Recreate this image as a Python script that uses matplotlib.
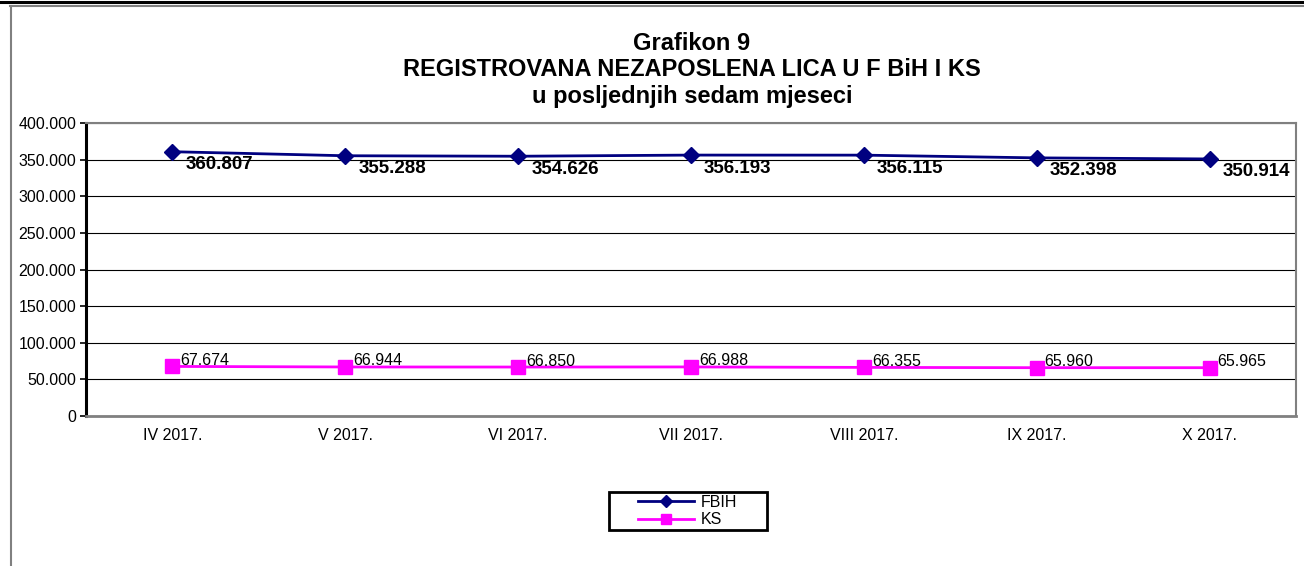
import matplotlib
matplotlib.use("Agg")
import matplotlib.pyplot as plt
from matplotlib.ticker import FuncFormatter, MultipleLocator
from matplotlib.lines import Line2D
from matplotlib.patches import Rectangle

categories = ["IV 2017.", "V 2017.", "VI 2017.", "VII 2017.", "VIII 2017.", "IX 2017.", "X 2017."]
fbih = [360807, 355288, 354626, 356193, 356115, 352398, 350914]
ks = [67674, 66944, 66850, 66988, 66355, 65960, 65965]
series_names = ["FBIH", "KS"]
title_lines = ["Grafikon 9", "REGISTROVANA NEZAPOSLENA LICA U F BiH I KS", "u posljednjih sedam mjeseci"]

plt.rcParams['font.family'] = ['Liberation Sans', 'DejaVu Sans']

fig = plt.figure(figsize=(13.04, 5.66), dpi=100)
W, H = 1304, 566

def fx(px): return px / W
def fy(py): return 1 - py / H

# outer frame lines
fig.add_artist(Line2D([0, 1], [fy(1.5), fy(1.5)], color="black", lw=2.2, transform=fig.transFigure))
fig.add_artist(Line2D([fx(10), 1], [fy(5.5), fy(5.5)], color="#808080", lw=1.5, transform=fig.transFigure))
fig.add_artist(Line2D([fx(11), fx(11)], [fy(5.5), 0], color="#808080", lw=1.5, transform=fig.transFigure))

ax = fig.add_axes([fx(86), fy(416), fx(1296) - fx(86), fy(123) - fy(416)])
x = list(range(len(categories)))

ax.set_ylim(0, 400000)
ax.set_xlim(-0.5, len(categories) - 0.5)
ax.yaxis.set_major_locator(MultipleLocator(50000))
ax.yaxis.set_major_formatter(FuncFormatter(lambda v, p: f"{int(v):,}".replace(",", ".")))
ax.grid(axis="y", color="black", lw=0.8)
ax.set_axisbelow(True)

for s in ["top", "right"]:
    ax.spines[s].set_color("#808080")
    ax.spines[s].set_linewidth(1.5)
ax.spines["bottom"].set_color("#808080")
ax.spines["bottom"].set_linewidth(2)
ax.spines["left"].set_color("black")
ax.spines["left"].set_linewidth(2.2)

ax.set_xticks(x)
ax.set_xticklabels(categories)
ax.tick_params(axis="x", length=0, pad=9, labelsize=11.5)
ax.tick_params(axis="y", length=4, width=1.2, labelsize=11.5, pad=3)

ax.plot(x, fbih, color="#000080", lw=2, marker="D", markersize=8, label=series_names[0], zorder=3)
ax.plot(x, ks, color="#FF00FF", lw=2, marker="s", markersize=10, label=series_names[1], zorder=3)

for xi, v in zip(x, fbih):
    ax.annotate(f"{v:,}".replace(",", "."), (xi, v), xytext=(13, -13), textcoords="offset pixels",
                ha="left", va="center", fontsize=13.5, fontweight="bold")
for xi, v in zip(x, ks):
    ax.annotate(f"{v:,}".replace(",", "."), (xi, v), xytext=(8, 6), textcoords="offset pixels",
                ha="left", va="center", fontsize=11.5)

for line, py in zip(title_lines, [43, 69, 96]):
    fig.text(fx(692), fy(py), line, ha="center", va="center", fontsize=17, fontweight="bold")

# legend
fig.add_artist(Rectangle((fx(609), fy(530)), fx(767) - fx(609), fy(492) - fy(530),
                         transform=fig.transFigure, fill=False, edgecolor="black", lw=2))
leg = fig.legend(loc="center left", bbox_to_anchor=(fx(638), fy(511)), fontsize=11.5, frameon=False,
                 handlelength=3.5, borderpad=0, labelspacing=0.15, borderaxespad=0,
                 handletextpad=0.4, markerscale=0.75)

fig.savefig("out.png", dpi=100)
